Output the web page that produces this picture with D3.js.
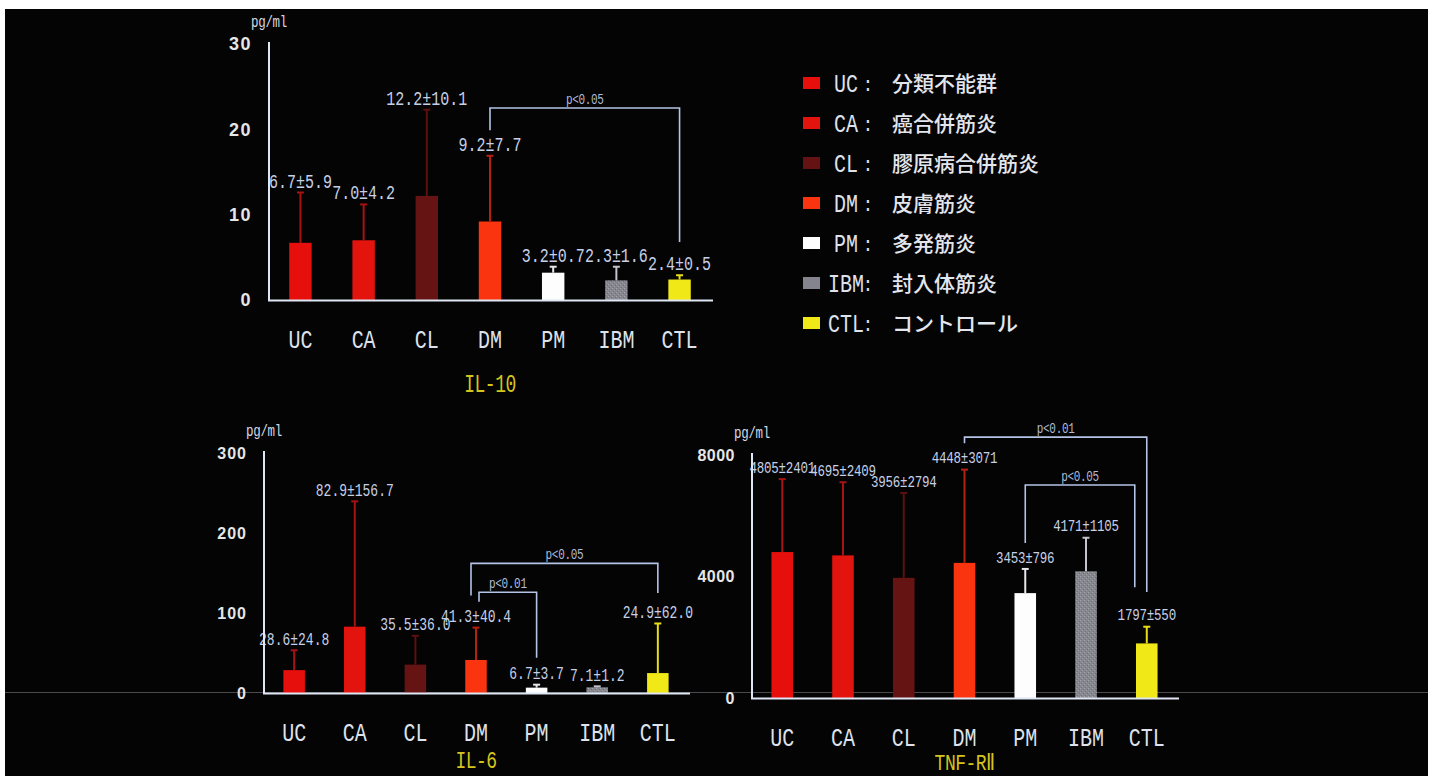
<!DOCTYPE html>
<html>
<head>
<meta charset="utf-8">
<script src="https://cdn.jsdelivr.net/npm/d3@7"></script>
<style>
  html, body { margin: 0; padding: 0; background: #ffffff; }
  svg { display: block; }
</style>
</head>
<body>
<svg id="chart" width="1436" height="776"></svg>
<script>
// ---- data ----
const categories = ["UC", "CA", "CL", "DM", "PM", "IBM", "CTL"];
const legendNames = ["分類不能群", "癌合併筋炎", "膠原病合併筋炎", "皮膚筋炎", "多発筋炎", "封入体筋炎", "コントロール"];

const il10Mean = [6.7, 7.0, 12.2, 9.2, 3.2, 2.3, 2.4];
const il10SD   = [5.9, 4.2, 10.1, 7.7, 0.7, 1.6, 0.5];
const il10Ticks = [0, 10, 20, 30];
const il10Brackets = [
  { from: "DM", to: "CTL", top: 22.5, fromEnd: 19.9, toEnd: 6.8, label: "p<0.05" }
];

const il6Mean = [28.6, 82.9, 35.5, 41.3, 6.7, 7.1, 24.9];
const il6SD   = [24.8, 156.7, 36.0, 40.4, 3.7, 1.2, 62.0];
const il6Ticks = [0, 100, 200, 300];
const il6Brackets = [
  { from: "DM", to: "CTL", top: 162, fromEnd: 122, toEnd: 125, label: "p<0.05" },
  { from: "DM", to: "PM",  top: 126, fromEnd: 114, toEnd: 44,  label: "p<0.01" }
];

const tnfMean = [4805, 4695, 3956, 4448, 3453, 4171, 1797];
const tnfSD   = [2401, 2409, 2794, 3071, 796, 1105, 550];
const tnfTicks = [0, 4000, 8000];
const tnfBrackets = [
  { from: "DM", to: "CTL", top: 8590, fromEnd: 8390, toEnd: 3490, label: "p<0.01" },
  { from: "PM", to: "CTL", top: 7010, fromEnd: 5100, toEnd: 3650, label: "p<0.05" }
];

// ---- styles ----
const barFill = {
  UC: "#e60f0b", CA: "#e3130e", CL: "#661314", DM: "#fb3410",
  PM: "#fdfdfd", IBM: "url(#ibmTex)", CTL: "#f1e817"
};
const legendFill = {
  UC: "#e60f0b", CA: "#e3130e", CL: "#641213", DM: "#fb3410",
  PM: "#fdfdfd", IBM: "#84848e", CTL: "#f1e817"
};
const errColor = {
  UC: "#a81212", CA: "#a81212", CL: "#5c1010", DM: "#b8200e",
  PM: "#e6e6ec", IBM: "#c4c4cc", CTL: "#e8de18"
};
const MONO = "'Liberation Mono', 'DejaVu Sans Mono', monospace";
const SANS = "'Liberation Sans', 'DejaVu Sans', sans-serif";
const CJK = "'Noto Sans CJK JP', 'Noto Sans CJK SC', sans-serif";
const axisColor = "#dfe6f4";
const textColor = "#dde2ec";
const valueColor = "#c6d0e6";
const bracketColor = "#b4c4e6";
const titleColor = "#d4c41c";

const svg = d3.select("#chart");

// frame
svg.append("rect").attr("width", 1436).attr("height", 776).attr("fill", "#ffffff");
svg.append("rect").attr("x", 5).attr("y", 9).attr("width", 1423).attr("height", 767).attr("fill", "#040404");

// grey texture for the IBM bars
const defs = svg.append("defs");
const pat = defs.append("pattern").attr("id", "ibmTex").attr("patternUnits", "userSpaceOnUse")
  .attr("width", 4).attr("height", 4);
pat.append("rect").attr("width", 4).attr("height", 4).attr("fill", "#86868f");
pat.append("rect").attr("x", 0).attr("y", 0).attr("width", 1).attr("height", 1).attr("fill", "#a6a6ae");
pat.append("rect").attr("x", 2).attr("y", 2).attr("width", 1).attr("height", 1).attr("fill", "#a0a0a8");
pat.append("rect").attr("x", 3).attr("y", 1).attr("width", 1).attr("height", 1).attr("fill", "#6e6e78");
pat.append("rect").attr("x", 1).attr("y", 3).attr("width", 1).attr("height", 1).attr("fill", "#747480");

// faint scan line running across the sheet
svg.append("line").attr("x1", 5).attr("x2", 1428).attr("y1", 692.5).attr("y2", 692.5)
  .attr("stroke", "#4a4a4e").attr("stroke-width", 1);

// text stretched vertically, centred on (x, y)
function tallText(parent, x, y, str, opt) {
  const sy = opt.sy || 1;
  const g = parent.append("g").attr("transform", `translate(${x},${y}) scale(1,${sy})`);
  return g.append("text")
    .attr("text-anchor", opt.anchor || "middle")
    .attr("dy", "0.36em")
    .attr("font-family", opt.family || MONO)
    .attr("font-size", opt.size)
    .attr("font-weight", opt.weight || "normal")
    .attr("letter-spacing", opt.spacing || 0)
    .attr("fill", opt.fill || textColor)
    .text(str);
}

function drawPanel(p) {
  const g = svg.append("g");
  const x = d3.scaleBand().domain(categories).range([p.x0, p.x1]).paddingInner(0.645).paddingOuter(0.32);
  const y = d3.scaleLinear().domain([0, p.max]).range([p.yb, p.yt]);
  const fmt = d3.format(p.fmt);
  const rows = categories.map((c, i) => ({ c, m: p.mean[i], sd: p.sd[i] }));

  // y tick labels
  const ya = g.append("g").attr("transform", `translate(${p.x0},0)`)
    .call(d3.axisLeft(y).tickValues(p.ticks).tickSize(0).tickPadding(17).tickFormat(d3.format("d")));
  ya.select(".domain").remove();
  ya.selectAll("text").attr("font-family", SANS).attr("font-weight", "bold")
    .attr("font-size", p.tickSize).attr("letter-spacing", p.tickSpacing).attr("fill", "#e6e6e6");

  // unit
  tallText(g, p.x0, p.yt - 23, "pg/ml", { size: 12.5, sy: 1.3, fill: "#d4d8e2", spacing: -0.3 });

  // x category labels
  const labOff = 39, sy = 1.25;
  const xa = g.append("g").attr("transform", `translate(0,${p.yb})`)
    .call(d3.axisBottom(x).tickSize(0));
  xa.select(".domain").remove();
  xa.selectAll("text")
    .attr("y", labOff / sy).attr("dy", "0.36em")
    .attr("transform", `scale(1,${sy})`)
    .attr("font-family", MONO).attr("font-size", 20).attr("fill", textColor);

  // bars
  g.selectAll("rect.bar").data(rows).join("rect").attr("class", "bar")
    .attr("x", d => x(d.c)).attr("width", x.bandwidth())
    .attr("y", d => y(d.m)).attr("height", d => y(0) - y(d.m))
    .attr("fill", d => barFill[d.c]);

  // error bars (upper half)
  const cx = d => x(d.c) + x.bandwidth() / 2;
  g.selectAll("line.err").data(rows).join("line").attr("class", "err")
    .attr("x1", cx).attr("x2", cx)
    .attr("y1", d => y(d.m)).attr("y2", d => y(d.m + d.sd))
    .attr("stroke", d => errColor[d.c]).attr("stroke-width", 2);
  g.selectAll("line.cap").data(rows).join("line").attr("class", "cap")
    .attr("x1", d => cx(d) - 3.5).attr("x2", d => cx(d) + 3.5)
    .attr("y1", d => y(d.m + d.sd)).attr("y2", d => y(d.m + d.sd))
    .attr("stroke", d => errColor[d.c]).attr("stroke-width", 2);

  // value labels
  rows.forEach(d => {
    tallText(g, cx(d), y(d.m + d.sd) - 12, `${fmt(d.m)}±${fmt(d.sd)}`,
      { size: p.valueSize, sy: p.valueSy, fill: valueColor, spacing: p.valueSpacing });
  });

  // axes lines
  g.append("line").attr("x1", p.x0).attr("x2", p.x0).attr("y1", p.yb).attr("y2", p.yt - 2)
    .attr("stroke", axisColor).attr("stroke-width", 2);
  g.append("line").attr("x1", p.x0 - 1).attr("x2", p.x1 + 2).attr("y1", p.yb + 0.5).attr("y2", p.yb + 0.5)
    .attr("stroke", axisColor).attr("stroke-width", 2.2);

  // significance brackets; nested brackets sharing an end are stepped inward
  p.brackets.forEach((b, i) => {
    let xa0 = cx({ c: b.from }), xb0 = cx({ c: b.to });
    p.brackets.forEach((o, j) => {
      if (j === i || o.top <= b.top) return;
      if (o.from === b.from) xa0 += 3;
      if (o.to === b.to) xb0 -= 12;
    });
    if (i === 0 && p.outerShift) { xa0 += p.outerShift[0]; xb0 += p.outerShift[1]; }
    const path = d3.path();
    path.moveTo(xa0, y(b.fromEnd));
    path.lineTo(xa0, y(b.top));
    path.lineTo(xb0, y(b.top));
    path.lineTo(xb0, y(b.toEnd));
    g.append("path").attr("d", path.toString()).attr("fill", "none")
      .attr("stroke", bracketColor).attr("stroke-width", 1.6);
    tallText(g, (xa0 + xb0) / 2, y(b.top) - 9, b.label,
      { size: 11, sy: 1.25, fill: "#aebad6", spacing: -0.3 });
  });

  // title
  tallText(g, (p.x0 + p.x1) / 2, p.yb + p.titleOff, p.title,
    { size: 18, sy: p.titleSy, fill: titleColor, spacing: -0.5 });
}

drawPanel({ mean: il10Mean, sd: il10SD, ticks: il10Ticks, max: 30, brackets: il10Brackets,
  x0: 269, x1: 711, yb: 300, yt: 44, fmt: ".1f", title: "IL-10", titleOff: 83, titleSy: 1.4,
  tickSize: 18, tickSpacing: 1.5, valueSize: 15, valueSy: 1.3, valueSpacing: 0 });

drawPanel({ mean: il6Mean, sd: il6SD, ticks: il6Ticks, max: 300, brackets: il6Brackets,
  x0: 264, x1: 688, yb: 693, yt: 453, fmt: ".1f", title: "IL-6", titleOff: 67, titleSy: 1.3,
  tickSize: 16, tickSpacing: 1, valueSize: 13, valueSy: 1.35, valueSpacing: 0,
  outerShift: [-5, 0] });

drawPanel({ mean: tnfMean, sd: tnfSD, ticks: tnfTicks, max: 8000, brackets: tnfBrackets,
  x0: 752, x1: 1177, yb: 698, yt: 455, fmt: "d", title: "TNF-RⅡ", titleOff: 64, titleSy: 1.25,
  tickSize: 16, tickSpacing: 0.5, valueSize: 12.5, valueSy: 1.25, valueSpacing: -0.2 });

// legend
const lg = svg.append("g");
categories.forEach((c, i) => {
  const cy = 83 + i * 40;
  lg.append("rect").attr("x", 803).attr("y", cy - 6).attr("width", 17).attr("height", 12)
    .attr("fill", legendFill[c]);
  tallText(lg, 846, cy, c, { size: 20, sy: 1.25, fill: textColor });
  tallText(lg, 868, cy + 1, ":", { size: 18, sy: 1.1, fill: textColor });
  lg.append("text").attr("x", 892).attr("y", cy).attr("dy", "0.36em")
    .attr("font-family", CJK).attr("font-size", 21).attr("font-weight", 500)
    .attr("fill", "#e4e6ee").text(legendNames[i]);
});
</script>
</body>
</html>
